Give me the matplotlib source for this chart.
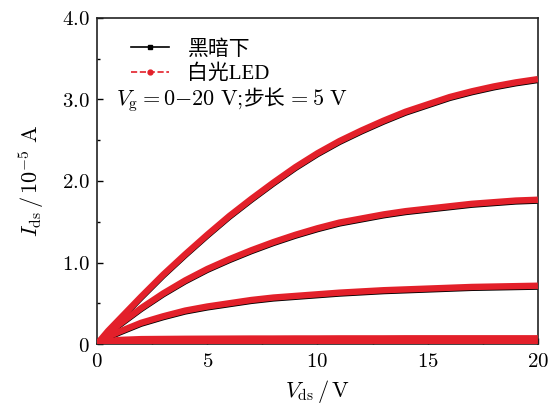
import matplotlib
matplotlib.use("Agg")
import matplotlib.pyplot as plt
from matplotlib.lines import Line2D
from matplotlib.offsetbox import TextArea, HPacker, AnchoredOffsetbox
from matplotlib.transforms import offset_copy

plt.rcParams['mathtext.fontset'] = 'cm'
plt.rcParams['font.family'] = ['DejaVu Serif']

# V_ds sweep (V)
vds = [0, 0.5, 1, 2, 3, 4, 5, 6, 7, 8, 9, 10, 11, 12, 13, 14, 15, 16, 17, 18, 19, 20]

# I_ds (1e-5 A) per gate voltage
ids_vg20 = [0, 0.16, 0.30, 0.58, 0.85, 1.10, 1.34, 1.57, 1.78, 1.98, 2.17, 2.34, 2.49,
            2.62, 2.74, 2.85, 2.94, 3.03, 3.10, 3.16, 3.21, 3.25]
ids_vg15 = [0, 0.13, 0.24, 0.44, 0.62, 0.78, 0.92, 1.04, 1.15, 1.25, 1.34, 1.42, 1.49,
            1.54, 1.59, 1.63, 1.66, 1.69, 1.72, 1.74, 1.76, 1.77]
ids_vg10 = [0, 0.09, 0.15, 0.26, 0.34, 0.41, 0.46, 0.50, 0.54, 0.57, 0.59, 0.61, 0.63,
            0.645, 0.66, 0.67, 0.68, 0.69, 0.70, 0.705, 0.71, 0.715]
ids_vg5 = [0, 0.03, 0.05, 0.06, 0.062, 0.064, 0.065, 0.066, 0.067, 0.067, 0.068, 0.068,
           0.069, 0.069, 0.069, 0.07, 0.07, 0.07, 0.07, 0.07, 0.07, 0.07]
ids_vg0 = [0, 0.005, 0.008, 0.01, 0.01, 0.01, 0.01, 0.01, 0.01, 0.01, 0.01, 0.01, 0.01,
           0.01, 0.01, 0.01, 0.01, 0.01, 0.01, 0.01, 0.01, 0.01]

dark = [ids_vg20, ids_vg15, ids_vg10, ids_vg5, ids_vg0]
led = [ids_vg20, ids_vg15, ids_vg10, ids_vg5, ids_vg0]

red = '#e3202a'

fig = plt.figure(figsize=(5.5, 4.05), dpi=100)
ax = fig.add_axes([0.1764, 0.1506, 0.8016, 0.805])

shift = offset_copy(ax.transData, fig=fig, x=0, y=-1.3, units='dots')
for y in dark:
    ax.plot(vds, y, color='black', lw=4.0, transform=shift, zorder=2,
            solid_capstyle='butt')
for y in led:
    ax.plot(vds, y, color=red, lw=4.6, zorder=3, solid_capstyle='butt')

ax.set_xlim(0, 20)
ax.set_ylim(0, 4.0)
ax.set_xticks([0, 5, 10, 15, 20])
ax.set_xticklabels([f'${v}$' for v in [0, 5, 10, 15, 20]])
ax.set_xticks([2.5, 7.5, 12.5, 17.5], minor=True)
ax.set_yticks([0, 1, 2, 3, 4])
ax.set_yticklabels(['$0$', '$1.0$', '$2.0$', '$3.0$', '$4.0$'])
ax.set_yticks([0.5, 1.5, 2.5, 3.5], minor=True)
ax.tick_params(which='both', direction='in', labelsize=15, top=False, right=False)
ax.tick_params(which='major', length=4, width=1)
ax.tick_params(which='minor', length=2.5, width=1)
ax.tick_params(axis='x', pad=6)
ax.tick_params(axis='y', pad=5)
for s in ax.spines.values():
    s.set_linewidth(1.2)
    s.set_color('#222222')

ax.set_xlabel(r'$V_{\rm ds}\,/\,\rm V$', fontsize=16, labelpad=5)
ax.set_ylabel(r'$I_{\rm ds}\,/\,10^{-5}\ \rm A$', fontsize=16, labelpad=12)

handles = [
    Line2D([], [], color='black', lw=1.2, marker='s', markersize=3.5),
    Line2D([], [], color=red, lw=1.2, ls='--', marker='o', markersize=3.5),
]
ax.legend(handles, ['黑暗下', '白光LED'], loc='upper left', bbox_to_anchor=(0.035, 0.99),
          frameon=False, handlelength=1.8, handletextpad=0.9, labelspacing=0.25,
          prop={'family': ['Liberation Serif', 'Noto Sans CJK SC'], 'size': 15})

tp = dict(fontsize=16)
parts = [
    TextArea(r'$V_{\rm g}=0\mathrm{-}20\ \rm V;$', textprops=tp),
    TextArea('步长', textprops=dict(fontsize=15, family='Noto Sans CJK SC')),
    TextArea(r'$=5\ \rm V$', textprops=tp),
]
box = HPacker(children=parts, align='baseline', pad=0, sep=1)
anch = AnchoredOffsetbox(loc='upper left', child=box, frameon=False,
                         bbox_to_anchor=(0.042, 0.785), bbox_transform=ax.transAxes,
                         borderpad=0, pad=0)
ax.add_artist(anch)

fig.savefig('out.png', dpi=100)
